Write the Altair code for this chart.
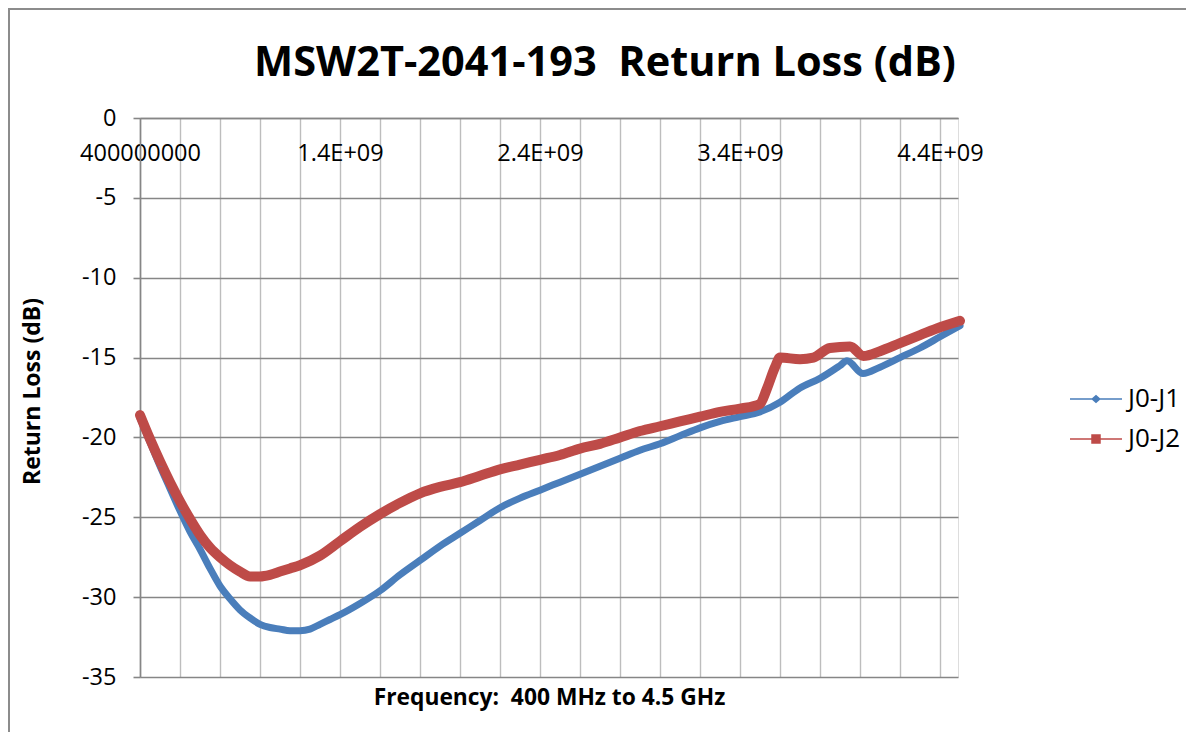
import altair as alt
import pandas as pd

SERIES = ["J0-J1", "J0-J2"]
COLORS = ["#4A7EBB", "#BE4B48"]

# J0-J1 (blue) : frequency in MHz, return loss in dB
J1_MHZ = [400, 450, 500, 550, 600, 650, 700, 750, 800, 850, 900, 950, 1000, 1050, 1100,
          1150, 1200, 1250, 1300, 1350, 1400, 1500, 1600, 1700, 1800, 1900, 2000, 2100,
          2200, 2300, 2400, 2500, 2600, 2700, 2800, 2900, 3000, 3100, 3200, 3300, 3400,
          3500, 3600, 3700, 3800, 3900, 3935, 4015, 4100, 4200, 4300, 4400, 4500]
J1_DB = [-18.8, -20.3, -21.8, -23.2, -24.6, -25.9, -27.0, -28.2, -29.3, -30.1, -30.8, -31.3,
         -31.7, -31.9, -32.0, -32.1, -32.1, -32.0, -31.7, -31.4, -31.1, -30.4, -29.6, -28.6,
         -27.7, -26.8, -26.0, -25.2, -24.4, -23.8, -23.3, -22.8, -22.3, -21.8, -21.3, -20.8,
         -20.4, -19.9, -19.4, -19.0, -18.7, -18.4, -17.8, -16.9, -16.3, -15.5, -15.2, -16.0,
         -15.6, -15.0, -14.4, -13.7, -13.0]

# J0-J2 (red)
J2_MHZ = [400, 450, 500, 550, 600, 650, 700, 750, 800, 850, 900, 950, 1000, 1050, 1100,
          1150, 1200, 1300, 1400, 1500, 1600, 1700, 1800, 1900, 2000, 2100, 2200, 2300,
          2400, 2500, 2600, 2700, 2800, 2900, 3000, 3100, 3200, 3300, 3400, 3500, 3533,
          3575, 3600, 3700, 3767, 3850, 3950, 4017, 4100, 4200, 4300, 4400, 4500]
J2_DB = [-18.6, -20.1, -21.5, -22.8, -24.0, -25.1, -26.1, -26.9, -27.5, -28.0, -28.4, -28.7,
         -28.7, -28.6, -28.4, -28.2, -28.0, -27.4, -26.5, -25.6, -24.8, -24.1, -23.5, -23.1,
         -22.8, -22.4, -22.0, -21.7, -21.4, -21.1, -20.7, -20.4, -20.0, -19.6, -19.3, -19.0,
         -18.7, -18.4, -18.2, -17.9, -17.0, -15.6, -15.0, -15.1, -15.0, -14.4, -14.3, -14.9,
         -14.6, -14.1, -13.6, -13.1, -12.7]

X_TICK_LABELS = ["400000000", "1.4E+09", "2.4E+09", "3.4E+09", "4.4E+09"]
Y_TICKS = [-35, -30, -25, -20, -15, -10, -5, 0]

rows = []
for mhz, db in zip(J1_MHZ, J1_DB):
    rows.append({"hz": mhz * 1e6, "db": db, "series": SERIES[0]})
for mhz, db in zip(J2_MHZ, J2_DB):
    rows.append({"hz": mhz * 1e6, "db": db, "series": SERIES[1]})
df = pd.DataFrame(rows)

W, H = 818, 559
FONT = "Open Sans"

x_grid_values = [400000000 + i * 200000000 for i in range(21)]
label_array = "[" + ",".join("'%s'" % s for s in X_TICK_LABELS) + "]"
label_expr = ("(datum.value - 400000000) % 1000000000 == 0 ? "
              + label_array + "[round((datum.value - 400000000) / 1000000000)] : ''")

x_enc = alt.X(
    "hz:Q",
    scale=alt.Scale(domain=[4e8, 4.49e9], nice=False, zero=False),
    axis=alt.Axis(
        orient="top", values=x_grid_values, labelExpr=label_expr,
        grid=True, gridColor="#BDBDBD", gridWidth=1.4,
        ticks=False, tickSize=0,
        domainColor="#868686", domainWidth=1.6,
        labelPadding=-23, labelBaseline="top", labelFontSize=23.5, labelFont=FONT,
        labelColor="#000000", labelOverlap=False, labelFlush=False,
        title="Frequency:\u00a0 400 MHz to 4.5 GHz", titleFont=FONT, titleFontSize=22.8,
        titleFontWeight="bold", titleColor="#000000", titleX=W / 2, titleY=579,
        titleBaseline="middle", titleAlign="center",
    ),
)
y_enc = alt.Y(
    "db:Q",
    scale=alt.Scale(domain=[-35, 0], nice=False, zero=False),
    axis=alt.Axis(
        values=Y_TICKS, labelExpr="datum.value + ''",
        grid=True, gridColor="#868686", gridWidth=1.6,
        tickSize=7, tickColor="#868686", tickWidth=1.6,
        domainColor="#868686", domainWidth=1.6,
        labelFontSize=23.5, labelFont=FONT, labelColor="#000000", labelPadding=17,
        title="Return Loss (dB)", titleFont=FONT, titleFontSize=23, titleFontWeight="bold",
        titleColor="#000000", titleX=-108, titleY=273, titleAngle=-90,
        titleAlign="center", titleBaseline="middle",
    ),
)

DIAMOND = ("M-5.2,-0.13 L-0.8,-0.13 L0,-0.85 L0.8,-0.13 L5.2,-0.13 L5.2,0.13 "
           "L0.8,0.13 L0,0.85 L-0.8,0.13 L-5.2,0.13 Z")
SQUARE = ("M-5.2,-0.13 L-0.95,-0.13 L-0.95,-0.95 L0.95,-0.95 L0.95,-0.13 L5.2,-0.13 "
          "L5.2,0.13 L0.95,0.13 L0.95,0.95 L-0.95,0.95 L-0.95,0.13 L-5.2,0.13 Z")

legend = alt.Legend(
    orient="none", legendX=943, legendY=268, title="",
    labelFont=FONT, labelFontSize=26, labelColor="#000000",
    symbolSize=100, symbolStrokeWidth=0, rowPadding=14, labelOffset=19,
)

lines = alt.Chart(df).mark_line(
    interpolate="monotone", strokeCap="round", strokeJoin="round").encode(
    x=x_enc, y=y_enc,
    color=alt.Color("series:N", scale=alt.Scale(domain=SERIES, range=COLORS), legend=None),
    strokeWidth=alt.StrokeWidth("series:N",
                                scale=alt.Scale(domain=SERIES, range=[7, 10]),
                                legend=None),
    order="hz:Q",
)

legend_pts = alt.Chart(df).mark_point(filled=True, opacity=1, size=1).encode(
    x=x_enc, y=y_enc,
    color=alt.Color("series:N", scale=alt.Scale(domain=SERIES, range=COLORS), legend=legend),
    shape=alt.Shape("series:N", scale=alt.Scale(domain=SERIES, range=[DIAMOND, SQUARE]),
                    legend=legend),
)

one = pd.DataFrame({"a": [0]})
frame_left = alt.Chart(one).mark_rule(color="#8C8C8C", strokeWidth=2).encode(
    x=alt.value(-131), y=alt.value(-110), y2=alt.value(640))
frame_top = alt.Chart(one).mark_rule(color="#8C8C8C", strokeWidth=2).encode(
    x=alt.value(-132), x2=alt.value(1060), y=alt.value(-109))

chart = alt.layer(frame_left, frame_top, lines, legend_pts).resolve_scale(
    color="independent", strokeWidth="independent", shape="independent"
).resolve_legend(
    color="independent", strokeWidth="independent", shape="independent"
).properties(
    width=W, height=H,
    title=alt.TitleParams(
        "MSW2T-2041-193\u00a0 Return Loss (dB)", font=FONT, fontSize=41.5, fontWeight="bold",
        color="#000000", anchor="middle", frame="group", dx=56, offset=-110,
        baseline="alphabetic",
    ),
    autosize=alt.AutoSizeParams(type="none"),
    padding={"left": 132, "top": 110, "right": 228, "bottom": 55},
).configure_view(stroke=None).configure(background="white")

chart.save("out.html", embed_options={"renderer": "svg", "actions": False})
